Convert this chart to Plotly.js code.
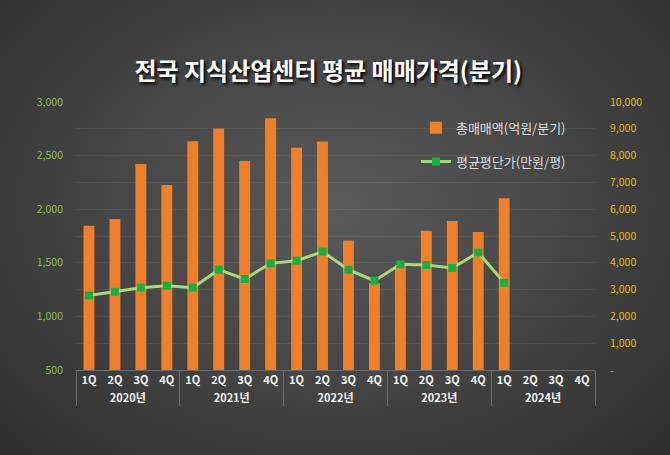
<!DOCTYPE html>
<html>
<head>
<meta charset="utf-8">
<script src="https://cdn.plot.ly/plotly-3.0.1.min.js"></script>
<style>
html,body{margin:0;padding:0;width:670px;height:455px;overflow:hidden;
background:radial-gradient(ellipse at 50% 45%, #5a5a5a 0%, #474747 45%, #2e2e2e 100%);}
#chart{width:670px;height:455px;}
</style>
</head>
<body>
<div id="chart"></div>
<script>
const years = ["2020년","2020년","2020년","2020년","2021년","2021년","2021년","2021년","2022년","2022년","2022년","2022년","2023년","2023년","2023년","2023년","2024년","2024년","2024년","2024년"];
const quarters = ["1Q","2Q","3Q","4Q","1Q","2Q","3Q","4Q","1Q","2Q","3Q","4Q","1Q","2Q","3Q","4Q","1Q","2Q","3Q","4Q"];
const totalSales = [5380,5630,7690,6900,8540,9010,7800,9390,8290,8530,4830,3250,3900,5200,5560,5150,6410,null,null,null];
const avgPrice = [1195,1230,1268,1286,1268,1436,1349,1495,1520,1604,1436,1333,1486,1479,1451,1596,1314,null,null,null];
const leftTicks = [500,1000,1500,2000,2500,3000];
const leftTickText = ["500","1,000","1,500","2,000","2,500","3,000"];
const rightTicks = [0,1000,2000,3000,4000,5000,6000,7000,8000,9000,10000];
const rightTickText = ["-","1,000","2,000","3,000","4,000","5,000","6,000","7,000","8,000","9,000","10,000"];
const seriesNames = ["총매매액(억원/분기)","평균평단가(만원/평)"];
const titleText = "전국 지식산업센터 평균 매매가격(분기)";

const FONT = '"Noto Sans CJK KR", "Noto Sans", sans-serif';

const traces = [
  {
    type: 'bar',
    name: seriesNames[0],
    x: [years, quarters],
    y: totalSales,
    yaxis: 'y',
    marker: {color: '#F07F2A', line: {width: 0}},
    width: 0.42,
    legendgroup: 'a',
    hoverinfo: 'skip'
  },
  {
    type: 'scatter',
    mode: 'lines+markers',
    name: seriesNames[1],
    x: [years, quarters],
    y: avgPrice,
    yaxis: 'y2',
    line: {color: '#A9D87A', width: 3},
    marker: {color: '#16B040', size: 8, symbol: 'square'},
    legendgroup: 'b',
    hoverinfo: 'skip'
  }
];

const layout = {
  width: 670,
  height: 455,
  paper_bgcolor: 'rgba(0,0,0,0)',
  plot_bgcolor: 'rgba(0,0,0,0)',
  margin: {l: 76, r: 75, t: 102, b: 85},
  font: {family: FONT, color: '#dddddd'},
  title: {
    text: '<b>' + titleText + '</b>',
    x: 0.49, xanchor: 'center',
    y: 0.842, yanchor: 'middle', yref: 'container',
    font: {family: FONT, size: 24, color: '#ffffff', shadow: '2px 2px 3px #000'}
  },
  showlegend: true,
  legend: {
    x: 0.655, xanchor: 'left',
    y: 0.96, yanchor: 'top',
    bgcolor: 'rgba(0,0,0,0)',
    font: {family: FONT, size: 13, color: '#dcdcdc'},
    traceorder: 'grouped',
    tracegroupgap: 14,
    itemwidth: 30
  },
  bargap: 0.5,
  xaxis: {
    type: 'multicategory',
    range: [-0.5, 19.5],
    autorange: false,
    showline: true,
    linecolor: '#6a6a6a',
    linewidth: 1,
    showdividers: true,
    dividercolor: '#6a6a6a',
    dividerwidth: 1,
    tickfont: {family: FONT, size: 11, color: '#f4f4f4', weight: 'bold'},
    ticks: '',
    showgrid: false,
    zeroline: false,
    automargin: false
  },
  yaxis: {
    side: 'right',
    range: [0, 10000],
    tickvals: rightTicks,
    ticktext: rightTickText,
    tickfont: {family: FONT, size: 10.5, color: '#E0BC10'},
    showgrid: true,
    gridcolor: 'rgba(255,255,255,0.07)',
    zeroline: false,
    ticks: '',
    ticklabelstandoff: 14,
    automargin: false
  },
  yaxis2: {
    side: 'left',
    overlaying: 'y',
    range: [500, 3000],
    tickvals: leftTicks,
    ticktext: leftTickText,
    tickfont: {family: FONT, size: 10.5, color: '#8FBF4A'},
    showgrid: false,
    zeroline: false,
    ticks: '',
    ticklabelstandoff: 12,
    automargin: false
  }
};

Plotly.newPlot('chart', traces, layout, {displayModeBar: false, staticPlot: true});
</script>
</body>
</html>
